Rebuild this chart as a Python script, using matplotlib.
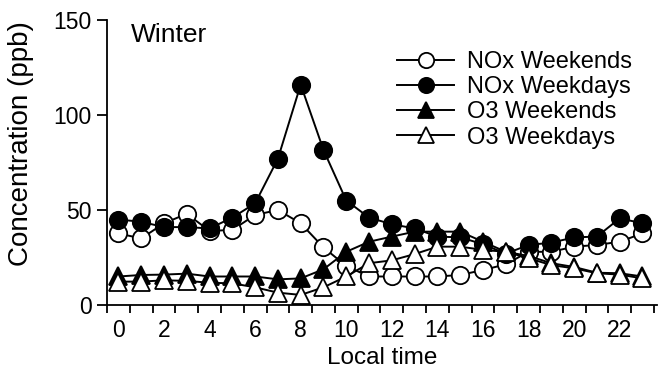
import matplotlib.pyplot as plt
import numpy as np

plt.rcParams['font.family'] = ['Liberation Sans', 'DejaVu Sans']

hours = np.arange(24)
nox_weekends = [37.7, 35, 43, 48, 39, 39.5, 47.4, 50, 43, 30.3, 20.5, 15, 15, 15, 15, 15.8,
                18.4, 21.4, 28, 28, 30.7, 31.6, 33.3, 37.7]
nox_weekdays = [45, 43.8, 41, 41, 40.3, 46, 53.5, 77, 116, 81.6, 55, 46, 42.5, 40.3, 36, 35.6,
                32, 27, 31.6, 32.8, 35.6, 36, 45.6, 43]
o3_weekends = [15, 15.8, 16, 16.5, 15, 15, 15, 13.5, 14, 18.8, 28, 33.3, 36, 38.6, 38.6, 38.6,
               33.3, 28, 25.8, 22, 20, 17, 16.7, 15]
o3_weekdays = [12.3, 12.3, 13, 12.7, 11.7, 11.4, 9.3, 6.5, 5.3, 9.3, 15, 22, 23.5, 26.8, 30.7, 30.7,
               29, 28, 24.6, 21, 19.3, 16.7, 16, 14]

fig = plt.figure(figsize=(6.59, 3.74), dpi=100)
ax = fig.add_axes([0.1624, 0.1845, 0.835, 0.762])

kw = dict(color='black', lw=1.4, markersize=12.5, markeredgewidth=1.3, markeredgecolor='black')
ax.plot(hours, nox_weekends, marker='o', mfc='white', label='NOx Weekends', **kw)
ax.plot(hours, nox_weekdays, marker='o', mfc='black', label='NOx Weekdays', **kw)
ax.plot(hours, o3_weekends, marker='^', mfc='black', label='O3 Weekends', **kw)
ax.plot(hours, o3_weekdays, marker='^', mfc='white', label='O3 Weekdays', **kw)

ax.set_xlim(-0.5, 23.65)
ax.set_ylim(0, 150)
ax.spines['top'].set_visible(False)
ax.spines['right'].set_visible(False)
ax.spines['left'].set_linewidth(1.3)
ax.spines['bottom'].set_linewidth(1.3)

# ticks at hour edges, labels at even hours
ax.set_xticks(np.arange(-0.5, 24, 1))
ax.set_xticklabels([])
ax.set_xticks(np.arange(0, 23, 2), minor=True)
ax.set_xticklabels([str(h) for h in range(0, 23, 2)], minor=True)
ax.tick_params(axis='x', which='minor', length=0, labelsize=16.5, pad=10)
ax.tick_params(axis='x', which='major', direction='out', length=6, width=1.3)
ax.set_yticks([0, 50, 100, 150])
ax.tick_params(axis='y', direction='out', length=7, width=1.3, labelsize=16.5, pad=4)

ax.set_xlabel('Local time', fontsize=17.5, labelpad=4)
ax.set_ylabel('Concentration (ppb)', fontsize=20)
ax.yaxis.set_label_coords(-0.133, 0.565)
ax.text(0.55, 148.5, 'Winter', fontsize=19, va='top')

ax.legend(loc='upper right', bbox_to_anchor=(0.984, 0.948), frameon=False, fontsize=17,
          handlelength=2.4, handletextpad=0.55, labelspacing=0.13, borderpad=0.2,
          markerscale=0.88)

fig.savefig('out.png', dpi=100)
